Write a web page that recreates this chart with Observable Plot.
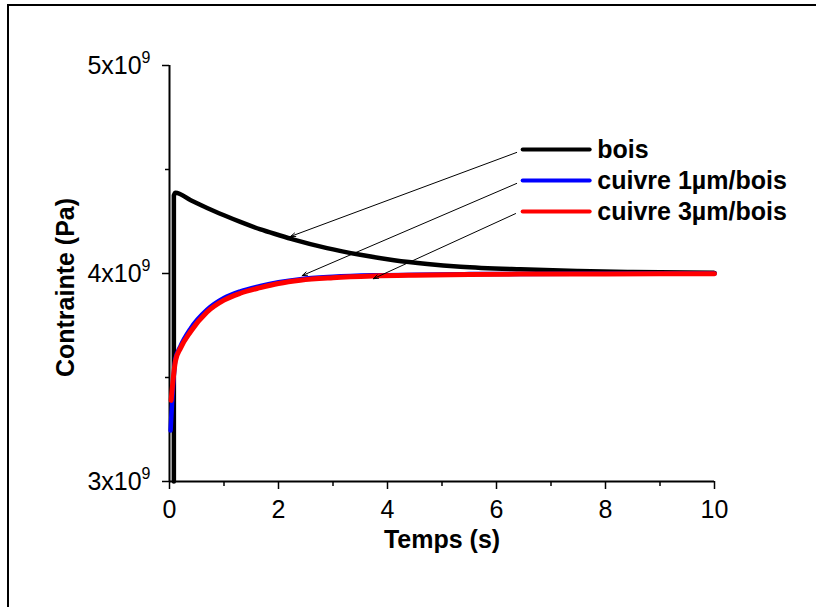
<!DOCTYPE html>
<html><head><meta charset="utf-8">
<script src="https://cdn.jsdelivr.net/npm/d3@7"></script>
<script src="https://cdn.jsdelivr.net/npm/@observablehq/plot@0.6"></script>
<style>
html,body{margin:0;padding:0;background:#fff;overflow:hidden;width:816px;height:607px;}
#chart{position:absolute;left:0;top:0;}
#frame{position:absolute;left:7px;top:4px;width:900px;height:700px;border-left:2.5px solid #000;border-top:2.5px solid #000;pointer-events:none;}
</style></head><body>
<div id="chart"></div><div id="frame"></div>
<script>
// Series names
const seriesNames = ["bois", "cuivre 1µm/bois", "cuivre 3µm/bois"];

// bois (wood)
const boisT = [0.08, 0.08, 0.11, 0.39, 0.69, 1.0, 1.3, 1.67, 2.0, 2.28, 2.89, 3.5, 4.12, 4.73, 5.34, 6.44, 7.5, 8.5, 10];
const boisV = [3.0e9, 4.375e9, 4.388e9, 4.352e9, 4.315e9, 4.280e9, 4.248e9, 4.212e9, 4.185e9, 4.163e9, 4.122e9, 4.090e9, 4.064e9, 4.046e9, 4.033e9, 4.020e9, 4.012e9, 4.007e9, 4.003e9];

// cuivre 1µm/bois
const cu1T = [0.02, 0.11, 0.2, 0.385, 0.69, 1.0, 1.3, 1.67, 2.0, 2.4, 3.0, 3.74, 4.5, 5.5, 6.44, 8, 10];
const cu1V = [3.245e9, 3.59e9, 3.65e9, 3.735e9, 3.826e9, 3.882e9, 3.914e9, 3.940e9, 3.958e9, 3.973e9, 3.984e9, 3.991e9, 3.994e9, 3.997e9, 3.998e9, 3.999e9, 4.0e9];

// cuivre 3µm/bois
const cu3T = [0.03, 0.11, 0.2, 0.385, 0.69, 1.0, 1.3, 1.67, 2.0, 2.4, 3.0, 3.74, 4.5, 5.5, 6.44, 8, 10];
const cu3V = [3.39e9, 3.58e9, 3.64e9, 3.72e9, 3.815e9, 3.872e9, 3.905e9, 3.932e9, 3.952e9, 3.968e9, 3.980e9, 3.988e9, 3.992e9, 3.995e9, 3.997e9, 3.998e9, 3.999e9];

// Tick values
const xTicks = [0, 2, 4, 6, 8, 10];
const xMinor = [1, 3, 5, 7, 9];
const yTicks = [3e9, 4e9, 5e9];
const yMinor = [3.5e9, 4.5e9];

// Titles
const xTitle = "Temps (s)";
const yTitle = "Contrainte (Pa)";

// Annotation anchors (data space): legend rows and arrows pointing to curves
const legendRowY = [4.596e9, 4.447e9, 4.298e9];
const legendLineX = [6.48, 7.71];
const legendTextX = 7.85;
const arrowFromX = [6.37, 6.37, 6.35];
const arrowFromY = [4.582e9, 4.433e9, 4.288e9];
const arrowToX = [2.22, 2.435, 3.74];
const arrowToY = [4.178e9, 3.990e9, 3.975e9];

const colors = ["#000000", "#0000ff", "#ff0000"];
const widths = [4.5, 4.5, 5];

const toRows = (T, V) => T.map((t, i) => ({t, v: V[i]}));
const curves = [toRows(boisT, boisV), toRows(cu1T, cu1V), toRows(cu3T, cu3V)];

const legendRows = seriesNames.map((name, i) => ({
  name, color: colors[i], y: legendRowY[i], x1: legendLineX[0], x2: legendLineX[1], tx: legendTextX
}));
const arrows = seriesNames.map((name, i) => ({
  x1: arrowFromX[i], y1: arrowFromY[i], x2: arrowToX[i], y2: arrowToY[i]
}));

const font = "'Liberation Sans', Arial, Helvetica, sans-serif";

const plot = Plot.plot({
  width: 816,
  height: 607,
  marginLeft: 169,
  marginRight: 102,
  marginTop: 65,
  marginBottom: 126,
  style: {fontFamily: font, fontSize: "25px", color: "#000", background: "transparent", overflow: "visible"},
  x: {domain: [0, 10], label: null},
  y: {domain: [3e9, 5e9], label: null},
  marks: [
    Plot.axisX({ticks: xTicks, tickSize: 8, tickPadding: 11, strokeWidth: 1.5, tickFormat: d => String(d), label: null, fontSize: 25}),
    Plot.axisX({ticks: xMinor, tickSize: 5, strokeWidth: 1.5, text: null, label: null}),
    Plot.axisY({ticks: yTicks, tickSize: 7, tickPadding: 12, strokeWidth: 1.5, tickFormat: d => `${d / 1e9}x10`, label: null, fontSize: 25}),
    Plot.axisY({ticks: yMinor, tickSize: 4, strokeWidth: 1.5, text: null, label: null}),
    Plot.ruleX([0], {stroke: "#000", strokeWidth: 2}),
    Plot.ruleY([3e9], {stroke: "#000", strokeWidth: 2}),
    ...curves.map((rows, i) => Plot.line(rows, {
      x: "t", y: "v", stroke: colors[i], strokeWidth: widths[i], curve: "monotone-x", strokeLinejoin: "round"
    })),
    Plot.arrow(arrows, {x1: "x1", y1: "y1", x2: "x2", y2: "y2", stroke: "#000", strokeWidth: 1, headLength: 8, headAngle: 40}),
    Plot.link(legendRows, {x1: "x1", x2: "x2", y1: "y", y2: "y", stroke: "color", strokeWidth: 4, strokeLinecap: "round"}),
    Plot.text(legendRows, {x: "tx", y: "y", text: "name", textAnchor: "start", fontWeight: "bold", fontSize: 25, fill: "#000"}),
    Plot.text([xTitle], {frameAnchor: "bottom", dy: 66, textAnchor: "middle", fontWeight: "bold", fontSize: 25, fill: "#000"}),
    Plot.text([yTitle], {frameAnchor: "left", rotate: -90, dx: -104, dy: 14, textAnchor: "middle", lineAnchor: "middle", fontWeight: "bold", fontSize: 25, fill: "#000"})
  ]
});

// Superscript exponent on the major y tick labels
plot.querySelectorAll('g[aria-label="y-axis tick label"] text').forEach(t => {
  if (!t.textContent.trim()) return;
  const sup = document.createElementNS("http://www.w3.org/2000/svg", "tspan");
  sup.setAttribute("dy", "-11");
  sup.setAttribute("font-size", "16");
  sup.textContent = "9";
  t.appendChild(sup);
});

document.getElementById("chart").appendChild(plot);
</script>
</body></html>
